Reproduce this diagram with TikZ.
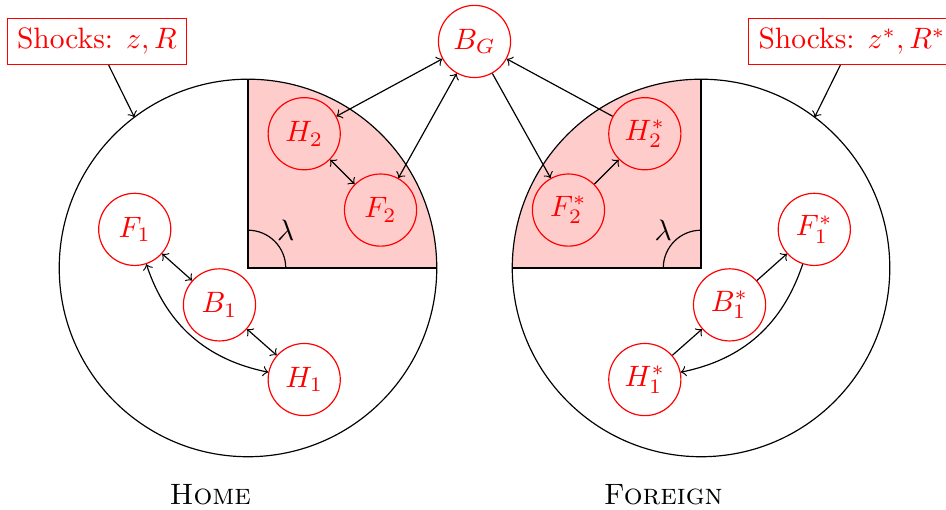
\documentclass[tikz,border=0pt]{standalone}
\usepackage{tikz}
\tikzset{agent/.style={circle,draw=red,text=red,minimum size=0.86cm,inner sep=0pt}}
\tikzset{shockbox/.style={draw=red,text=red}}
\tikzset{region/.style={fill=red!20}}

\begin{document}
\begin{tikzpicture}
        % Picture frame
        \useasboundingbox (-2.956,-2.884) rectangle (8.32,3.194);
        % Coordinates
        \coordinate (O) at (0,0);
        \coordinate (O') at (5.4,0);
        \coordinate (hitH) at (127:2.25);
        \coordinate (hitF) at (6.754,1.797);
        % Shaded quarters
        \fill[region] (O) -- (2.25,0) arc[start angle=0, 
        end angle=90, radius=2.25] -- cycle;
        \fill[region] (O') -- (5.4,2.25) arc[start angle=90, 
        end angle=180, radius=2.25] -- cycle;
        \draw (0,2.25) -- (O) -- (2.25,0);
        \draw (5.4,2.25) -- (O') -- (3.15,0);
        % Draw the two countries
        \draw (O) circle (2.25);
        \draw (O') circle (2.25);
        % Draw the angle lambda
        \draw (0.45,0) arc[start angle=0, 
        end angle=90, radius=0.45];
        \node at (0.45,0.45) {$\lambda$};
        \draw (5.4,0.45) arc[start angle=90, 
        end angle=180, radius=0.45];
        \node at (4.95,0.45) {$\lambda$};
        % Agents at home
        \node[agent] (BG) at (2.7,2.7) {$B_G$};
        \node[agent] (H2) at (0.67,1.6) {$H_2$};
        \node[agent] (F2) at (1.58,0.69) {$F_2$};
        \node[agent] (F1) at (-1.35,0.46) {$F_1$};
        \node[agent] (B1) at (-0.34,-0.44) {$B_1$};
        \node[agent] (H1) at (0.67,-1.33) {$H_1$};
        % Agents abroad
        \node[agent] (H2s) at (4.73,1.6) {$H_2^*$};
        \node[agent] (F2s) at (3.82,0.69) {$F_2^*$};
        \node[agent] (F1s) at (6.75,0.46) {$F_1^*$};
        \node[agent] (B1s) at (5.74,-0.44) {$B_1^*$};
        \node[agent] (H1s) at (4.73,-1.33) {$H_1^*$};
        % Shocks
        \node[shockbox] (zH) at (-1.8,2.7) {Shocks: $z,R$};
        \node[shockbox] (zF) at (7.2,2.7) {Shocks: $z^*,R^*$};
        \draw[->] (zH) -- (hitH);
        \draw[->] (zF) -- (hitF);
        % Links at home
        \draw[<->] (H2) -- (BG);
        \draw[<->] (F2) -- (BG);
        \draw[<->] (H2) -- (F2);
        \draw[<->] (F1) -- (B1);
        \draw[<->] (B1) -- (H1);
        \draw[<->, bend right] (F1) to (H1);
        % Links abroad
        \draw[->] (BG) -- (F2s);
        \draw[->] (H2s) -- (BG);
        \draw[->] (F2s) -- (H2s);
        \draw[->] (H1s) -- (B1s);
        \draw[->] (B1s) -- (F1s);
        \draw[->, bend left] (F1s) to (H1s);
        % Country names
        \node (home) at (-0.45,-2.7) {\textsc{Home}};
        \node (foreign) at (4.95,-2.7) {\textsc{Foreign}};
    \end{tikzpicture}
\end{document}
